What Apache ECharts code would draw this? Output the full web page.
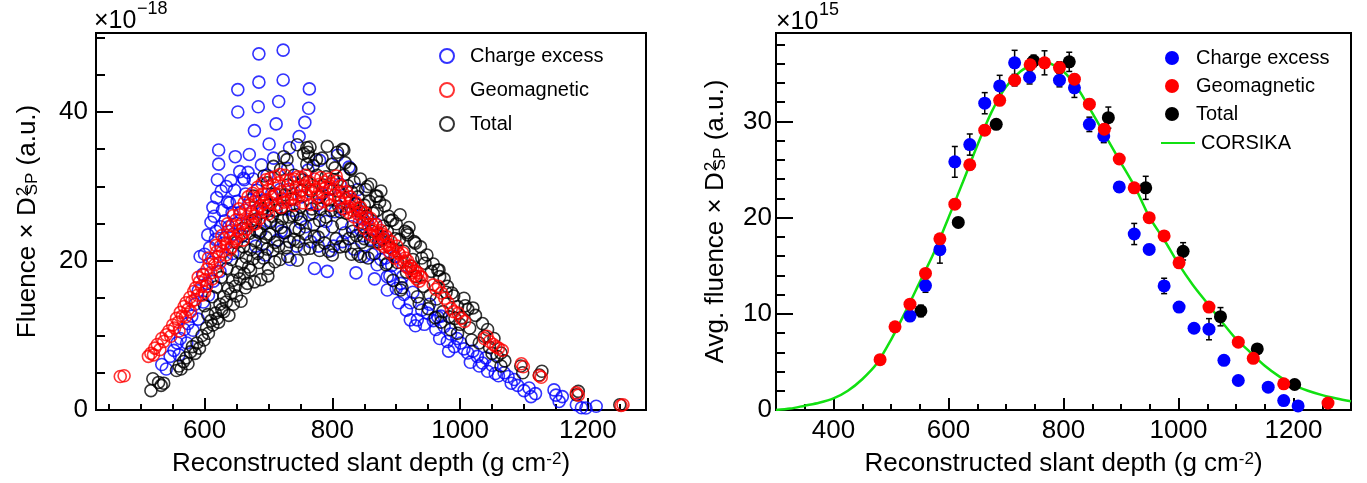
<!DOCTYPE html>
<html><head><meta charset="utf-8">
<script src="https://cdn.jsdelivr.net/npm/echarts@6/dist/echarts.min.js"></script>
<style>html,body{margin:0;padding:0;background:#fff}#c{width:1367px;height:483px}</style>
</head><body><div id="c"></div>
<script>
// ---------- Left panel: per-event values [depth, fluence x D^2 (1e-18)] ----------
const leftCharge = [[533,6.1],[540,5.5],[546,7.2],[552,8.0],[557,9.0],[560,7.4],[562,9.6],[568,10.8],[572,9.0],[574,11.6],[580,12.6],[582,10.7],[585,14.2],[590,16.0],[590,12.2],[593,20.6],[597,18.2],[598,14.5],[600,20.9],[604,17.0],[605,23.5],[606,15.4],[608,21.8],[610,25.2],[612,19.8],[613,27.2],[614,17.3],[615,26.0],[617,22.9],[618,24.0],[619,28.5],[620,30.9],[622,33.0],[622,34.9],[624,18.6],[625,24.6],[626,29.4],[628,26.8],[630,22.4],[632,25.4],[634,30.0],[634,20.4],[636,27.9],[638,24.6],[639,27.8],[641,30.8],[643,26.5],[644,21.0],[645,23.6],[647,29.5],[648,34.0],[650,25.0],[651,28.0],[652,40.0],[652,43.0],[655,32.0],[656,26.5],[658,23.3],[661,31.1],[662,30.9],[664,29.0],[665,24.8],[668,31.9],[670,34.3],[672,28.2],[674,26.6],[676,31.0],[678,37.5],[680,22.0],[682,29.5],[684,40.7],[685,44.0],[685,47.8],[688,24.0],[689,32.9],[690,26.5],[694,28.1],[695,20.8],[698,31.5],[701,35.7],[703,25.4],[705,29.0],[708,33.8],[712,38.4],[714,22.8],[716,41.4],[718,29.6],[720,24.0],[723,44.3],[723,48.3],[726,23.8],[727,27.0],[730,32.4],[733,35.2],[734,20.2],[738,26.8],[740,30.5],[744,22.0],[748,36.7],[750,25.2],[752,28.6],[757,38.6],[758,24.6],[762,32.2],[763,40.5],[764,43.1],[766,22.6],[770,26.4],[772,19.0],[776,27.5],[778,22.0],[780,33.5],[784,29.0],[786,24.0],[790,25.3],[792,18.6],[796,29.6],[798,21.4],[802,22.0],[804,26.6],[808,34.2],[812,30.3],[814,27.0],[816,22.6],[820,23.8],[822,28.4],[826,32.6],[830,24.6],[834,21.6],[837,18.4],[837,27.6],[840,29.6],[844,24.2],[845,26.0],[848,23.4],[850,20.6],[855,25.6],[860,22.9],[862,20.9],[866,17.6],[868,25.0],[870,19.5],[874,22.8],[876,20.2],[880,23.2],[883,20.4],[886,17.9],[886,16.1],[890,18.0],[893,19.4],[898,20.6],[900,16.3],[904,14.4],[907,17.0],[910,17.9],[912,15.5],[916,13.4],[922,14.4],[922,12.1],[926,15.8],[930,11.3],[933,12.1],[940,13.4],[944,11.5],[949,13.0],[952,14.2],[958,12.0],[962,10.8],[965,12.5],[968,9.6],[970,12.6],[975,11.2],[980,9.2],[982,7.9],[985,10.2],[991,8.5],[995,9.6],[1001,9.0],[1006,8.2],[1012,7.65],[1016,6.4],[1020,7.9],[1027,7.2],[1030,5.9],[1035,6.3],[1040,7.0],[1043,5.2],[1050,6.0],[1055,4.9],[1060,4.6],[1069,5.0],[1075,4.5],[1080,3.6],[1085,4.1],[1090,3.3],[1100,2.6],[1108,2.95],[1111,1.8],[1118,2.2],[1147,2.7],[1150,2.0],[1155,1.15],[1160,1.8],[1182,0.7],[1190,0.3],[1197,0.27],[1213,0.5]];

const leftGeo = [[468,4.5],[474,4.6],[512,7.2],[516,7.6],[520,7.4],[522,8.3],[526,8.8],[530,8.1],[533,9.6],[536,9.2],[540,10.1],[544,10.6],[547,9.9],[550,11.4],[553,11.0],[556,12.3],[559,11.8],[560,10.6],[562,13.1],[565,12.6],[568,13.9],[570,12.5],[571,14.4],[574,13.5],[577,15.1],[578,13.2],[580,14.6],[583,15.9],[585,14.8],[586,16.4],[589,15.4],[590,17.8],[592,17.2],[595,16.6],[596,15.4],[598,18.1],[600,15.8],[601,17.5],[603,16.6],[604,18.9],[606,20.4],[607,19.6],[610,18.4],[612,17.6],[613,20.3],[616,19.5],[618,22.1],[619,21.2],[620,18.6],[622,20.6],[624,19.8],[625,22.0],[627,23.4],[628,21.3],[631,23.0],[633,20.8],[634,22.3],[636,25.0],[637,24.0],[640,23.2],[640,21.5],[642,21.9],[643,24.8],[645,26.1],[646,22.6],[649,25.5],[650,23.0],[652,24.1],[654,27.0],[655,26.2],[657,23.6],[658,25.0],[660,22.8],[661,23.8],[662,27.8],[664,26.8],[666,24.3],[667,25.6],[668,28.6],[670,27.5],[672,25.2],[673,26.3],[675,29.1],[676,24.9],[678,26.0],[679,28.0],[680,25.0],[682,26.9],[683,29.9],[685,28.6],[686,25.7],[688,27.4],[690,30.4],[691,29.0],[693,27.8],[694,26.5],[696,30.9],[697,28.2],[699,27.0],[700,29.6],[700,26.3],[703,31.1],[704,27.8],[706,28.6],[708,30.2],[710,31.3],[712,28.9],[714,27.6],[716,30.5],[718,31.6],[720,29.3],[720,27.2],[722,28.3],[724,27.9],[726,31.5],[728,30.8],[730,28.0],[732,29.6],[734,30.9],[736,28.4],[738,29.0],[740,31.0],[740,27.5],[742,28.3],[744,29.9],[746,31.3],[748,28.7],[750,29.4],[752,31.2],[754,27.8],[756,30.1],[758,31.5],[760,28.9],[762,29.7],[764,30.6],[766,27.6],[768,29.5],[770,30.0],[772,31.0],[774,29.6],[776,28.6],[778,27.7],[780,30.3],[782,31.2],[784,29.2],[786,28.0],[788,30.6],[790,29.9],[792,28.4],[794,31.0],[796,29.8],[798,27.5],[800,30.4],[802,29.6],[804,28.8],[806,31.4],[808,30.7],[810,28.4],[812,27.9],[814,30.1],[816,29.2],[818,27.0],[820,28.4],[822,29.3],[824,27.3],[826,26.5],[828,28.6],[830,28.1],[832,26.8],[834,25.9],[836,27.9],[838,27.0],[840,26.3],[842,25.2],[844,27.2],[846,26.6],[848,25.6],[850,24.4],[852,26.4],[854,25.8],[856,24.9],[858,23.6],[860,25.7],[862,24.9],[864,24.2],[866,23.2],[868,24.9],[870,23.9],[872,23.6],[874,22.3],[876,24.1],[878,23.6],[880,22.9],[882,21.9],[884,23.3],[886,22.1],[888,22.2],[890,21.1],[892,22.6],[894,21.6],[896,21.4],[898,20.4],[901,22.0],[903,21.1],[905,20.9],[907,19.8],[910,21.1],[912,20.0],[914,20.4],[916,19.2],[918,20.0],[920,19.0],[922,19.4],[924,18.4],[926,19.0],[928,18.0],[930,18.6],[932,17.6],[934,18.4],[936,17.3],[938,17.9],[940,17.8],[958,16.8],[962,16.2],[966,16.6],[971,15.7],[976,15.0],[981,14.4],[986,13.6],[990,13.2],[997,13.0],[1002,12.3],[1007,11.9],[1038,9.6],[1042,9.9],[1046,9.2],[1052,8.8],[1056,8.5],[1060,8.3],[1066,8.0],[1096,6.2],[1099,5.8],[1124,4.6],[1127,4.4],[1182,2.3],[1185,2.0],[1252,0.6],[1255,0.7]];

const leftTotal = [[516,2.6],[519,4.2],[528,3.7],[532,3.3],[536,3.6],[556,5.3],[560,5.9],[563,5.5],[567,6.5],[571,7.0],[574,6.2],[578,7.8],[581,8.5],[585,7.6],[588,9.0],[592,8.3],[596,10.0],[599,9.4],[600,14.0],[603,11.0],[605,12.8],[606,10.3],[610,12.0],[612,15.2],[613,11.4],[617,13.0],[618,16.5],[620,12.3],[622,11.8],[624,14.2],[626,17.8],[627,13.5],[630,15.2],[630,13.2],[634,14.5],[635,19.0],[637,16.3],[638,12.7],[641,15.6],[642,20.2],[644,17.4],[645,14.2],[648,16.6],[650,22.5],[650,15.3],[651,18.5],[653,21.2],[655,17.6],[657,14.6],[658,19.6],[660,24.4],[661,21.9],[662,18.3],[664,16.4],[665,20.5],[667,17.0],[669,19.2],[670,23.7],[672,21.5],[672,18.8],[675,25.4],[676,20.3],[677,28.7],[678,17.2],[679,22.7],[680,25.6],[682,24.0],[683,21.0],[685,19.8],[686,23.8],[688,17.5],[690,22.2],[690,27.0],[692,20.4],[693,31.4],[694,25.0],[696,23.2],[698,21.6],[698,30.5],[699,18.0],[700,19.0],[700,27.5],[702,23.6],[703,25.2],[706,26.0],[707,21.4],[708,32.7],[710,22.5],[710,29.0],[710,19.9],[712,26.8],[714,24.8],[716,22.0],[718,20.2],[719,32.3],[720,27.0],[720,24.5],[722,25.7],[724,23.8],[724,34.0],[726,28.9],[728,21.8],[729,33.6],[730,30.2],[730,20.6],[732,25.9],[733,22.6],[736,28.3],[738,26.1],[740,22.9],[740,31.5],[742,24.4],[744,26.2],[745,35.6],[745,20.1],[747,22.6],[748,24.2],[750,27.3],[751,25.6],[752,29.5],[754,30.9],[755,34.4],[756,21.6],[758,23.6],[760,33.0],[760,35.2],[760,30.6],[762,34.6],[763,34.0],[764,26.2],[765,35.3],[765,21.7],[767,29.4],[768,27.0],[770,32.8],[771,24.9],[772,23.3],[775,33.6],[776,31.5],[778,23.2],[780,25.4],[780,28.6],[780,21.4],[782,27.0],[784,33.8],[786,30.2],[788,22.4],[790,31.3],[790,25.9],[792,35.4],[794,21.3],[796,28.2],[798,26.8],[800,24.6],[800,33.0],[800,20.8],[802,30.9],[804,32.5],[806,23.0],[808,34.6],[810,29.4],[810,27.3],[812,26.6],[812,21.9],[815,25.0],[816,35.0],[818,34.9],[818,31.5],[820,22.0],[820,33.2],[822,26.4],[824,30.1],[826,23.0],[828,32.4],[829,32.3],[830,29.3],[830,20.9],[832,24.0],[834,30.6],[836,27.7],[838,23.4],[840,20.9],[840,28.6],[842,26.7],[844,31.0],[844,20.6],[846,22.5],[848,25.1],[850,23.0],[850,27.5],[852,29.6],[854,26.0],[855,30.0],[856,20.4],[858,28.0],[860,30.3],[860,22.7],[862,24.0],[864,26.4],[866,21.0],[868,28.7],[870,26.8],[870,28.7],[872,22.6],[874,27.9],[876,29.4],[878,22.9],[880,24.7],[882,27.4],[884,19.5],[886,19.7],[886,24.0],[888,26.0],[890,21.8],[891,25.4],[894,25.5],[895,17.4],[898,23.0],[900,25.0],[902,19.8],[905,22.9],[906,26.2],[907,16.1],[909,16.4],[912,21.3],[914,24.0],[916,18.5],[917,23.8],[918,23.5],[920,24.5],[923,19.3],[926,20.2],[928,22.6],[930,22.4],[931,17.9],[933,15.2],[936,14.3],[938,21.9],[940,20.4],[943,16.6],[945,19.7],[948,20.8],[950,13.6],[953,15.4],[955,18.6],[958,19.6],[961,12.4],[963,14.9],[965,18.8],[967,18.8],[968,17.9],[970,11.8],[973,13.2],[975,17.6],[978,15.8],[980,16.6],[983,12.5],[985,10.8],[987,15.7],[990,15.3],[992,12.3],[996,13.9],[996,10.3],[1000,11.5],[1003,12.4],[1006,15.0],[1008,14.0],[1012,13.5],[1015,11.0],[1018,9.4],[1020,13.7],[1024,12.7],[1030,9.0],[1035,11.6],[1038,9.9],[1043,10.8],[1046,8.4],[1050,7.6],[1053,9.6],[1058,7.2],[1064,7.65],[1064,5.9],[1070,6.6],[1095,5.9],[1098,5.0],[1124,4.7],[1128,5.2],[1182,2.05],[1185,2.5],[1250,0.7]];

// ---------- Right panel: binned averages (1e15) ----------
const ceX   = [533,560,585,611,637,663,689,715,741,793,819,845,870,897,923,949,975,1001,1027,1053,1079,1104,1156,1183,1208];
const ceY   = [9.77,12.94,16.67,25.8,27.6,31.9,33.7,36.1,34.6,34.3,33.5,29.7,28.5,23.2,18.3,16.7,12.9,10.7,8.5,8.4,5.16,3.07,2.37,0.98,0.42];
const ceErr = [0.4,0.7,1.4,1.6,1.1,1.1,1.1,1.3,0.7,0.7,1.0,0.75,0.7,0.5,1.1,0.5,0.8,0.5,0.4,1.1,0.4,0.3,0.3,0.2,0.2];

const geoX   = [481,507,533,560,585,611,637,663,689,715,742,767,793,819,845,871,897,923,949,975,1001,1053,1104,1130,1183,1260];
const geoY   = [5.23,8.65,11.0,14.2,17.8,21.4,25.5,29.1,32.2,34.3,35.9,36.1,35.6,34.4,31.8,29.2,26.1,23.1,20.0,18.1,15.3,10.7,7.05,5.37,2.72,0.73];
const geoErr = [0.3,0.3,0.4,0.4,0.4,0.5,0.5,0.5,0.5,0.6,0.6,1.25,0.6,0.5,0.5,0.5,0.4,0.4,0.4,0.4,0.4,0.3,0.3,0.3,0.2,0.2];

const totX   = [552,617,683,748,810,878,943,1008,1073,1137,1202];
const totY   = [10.3,19.5,29.7,36.3,36.2,30.4,23.1,16.5,9.7,6.35,2.65];
const totErr = [0.6,0.5,0.4,0.6,1.0,1.1,1.2,0.9,0.95,0.4,0.3];

const corsikaX = [300,325,350,375,400,425,450,475,500,525,550,575,600,625,650,675,700,725,750,765,775,800,825,850,875,900,925,950,975,1000,1025,1050,1075,1100,1125,1150,1175,1200,1225,1250,1275,1300];
const corsikaY = [0,0.15,0.45,0.75,1.2,2.0,3.2,4.8,7.3,10.2,13.3,16.4,20.0,23.7,27.5,31.0,33.6,35.2,36.0,36.2,36.1,35.2,33.4,30.9,28.3,25.7,23.1,20.0,17.7,15.2,13.0,11.1,9.2,7.4,6.0,4.6,3.5,2.6,2.0,1.55,1.2,0.9];

// ---------- Tick values ----------
const leftXTicks  = [600,800,1000,1200];
const leftXMinor  = [450,500,550,650,700,750,850,900,950,1050,1100,1150,1250];
const leftYTicks  = [0,20,40];
const leftYMinor  = [5,10,15,25,30,35,45,50];
const rightXTicks = [400,600,800,1000,1200];
const rightXMinor = [350,450,500,550,650,700,750,850,900,950,1050,1100,1150,1250];
const rightYTicks = [0,10,20,30];
const rightYMinor = [2,4,6,8,12,14,16,18,22,24,26,28,32,34,36,38];

const FONT = 'Liberation Sans, Arial, Helvetica, sans-serif';
const chart = echarts.init(document.getElementById('c'), null, {renderer:'canvas'});

const zip = (xs, ys) => xs.map((x,i)=>[x, ys[i]]);
const zip3 = (xs, ys, es) => xs.map((x,i)=>[x, ys[i], es[i]]);
const plain = (v) => String(v);

function mainX(grid, min, max, ticks, nameGap){
  return {type:'value', gridIndex:grid, min, max, position:'bottom',
    axisLine:{show:true, onZero:false, lineStyle:{color:'#000', width:2}},
    axisTick:{show:true, inside:true, length:12, customValues:ticks, lineStyle:{color:'#000', width:2}},
    axisLabel:{show:true, customValues:ticks, formatter:plain, fontSize:26, fontFamily:FONT, color:'#000', margin:8},
    splitLine:{show:false},
    name:'Reconstructed slant depth (g cm{sup|-2})', nameLocation:'middle', nameGap,
    nameTextStyle:{fontSize:26, fontFamily:FONT, color:'#000',
      rich:{sup:{fontSize:17, fontFamily:FONT, color:'#000', verticalAlign:'top', lineHeight:12}}}
  };
}
function minorX(grid, min, max, ticks){
  return {type:'value', gridIndex:grid, min, max, position:'bottom',
    axisLine:{show:false}, axisLabel:{show:false}, splitLine:{show:false},
    axisTick:{show:true, inside:true, length:6, customValues:ticks, lineStyle:{color:'#000', width:2}}};
}
function mainY(grid, min, max, ticks, name, nameGap, margin){
  return {type:'value', gridIndex:grid, min, max, position:'left',
    axisLine:{show:true, onZero:false, lineStyle:{color:'#000', width:2}},
    axisTick:{show:true, inside:true, length:17, customValues:ticks, lineStyle:{color:'#000', width:2}},
    axisLabel:{show:true, customValues:ticks, formatter:plain, fontSize:26, fontFamily:FONT, color:'#000', margin},
    splitLine:{show:false},
    name, nameLocation:'middle', nameGap, nameRotate:90,
    nameTextStyle:{fontSize:26, fontFamily:FONT, color:'#000',
      rich:{
        n:{fontSize:26, fontFamily:FONT, color:'#000', align:'left'},
        sup:{fontSize:17, fontFamily:FONT, color:'#000', verticalAlign:'top', lineHeight:10, width:0.01, align:'left', padding:[0,0,0,1]},
        sub:{fontSize:17, fontFamily:FONT, color:'#000', verticalAlign:'bottom', lineHeight:12, align:'left', padding:[0,0,0,1]}
      }}
  };
}
function minorY(grid, min, max, ticks){
  return {type:'value', gridIndex:grid, min, max, position:'left',
    axisLine:{show:false}, axisLabel:{show:false}, splitLine:{show:false},
    axisTick:{show:true, inside:true, length:9, customValues:ticks, lineStyle:{color:'#000', width:2}}};
}

function openScatter(name, data, color){
  return {type:'scatter', name, data, xAxisIndex:0, yAxisIndex:0, symbol:'circle', symbolSize:12,
    itemStyle:{color:'rgba(0,0,0,0)', borderColor:color, borderWidth:1.6}, silent:true};
}
function filledScatter(name, data, color, z){
  return {type:'scatter', name, data, xAxisIndex:2, yAxisIndex:2, symbol:'circle', symbolSize:13,
    itemStyle:{color, opacity:1}, z, silent:true};
}
function errBars(data, z){
  return {type:'custom', xAxisIndex:2, yAxisIndex:2, data, z, silent:true,
    encode:{x:0, y:1},
    renderItem:function(params, api){
      const x = api.value(0), y = api.value(1), e = api.value(2);
      const t = api.coord([x, y+e]), b = api.coord([x, y-e]);
      const hw = 3, st = {stroke:'#000', lineWidth:1.5};
      return {type:'group', children:[
        {type:'line', shape:{x1:t[0], y1:t[1], x2:b[0], y2:b[1]}, style:st},
        {type:'line', shape:{x1:t[0]-hw, y1:t[1], x2:t[0]+hw, y2:t[1]}, style:st},
        {type:'line', shape:{x1:b[0]-hw, y1:b[1], x2:b[0]+hw, y2:b[1]}, style:st}
      ]};
    }};
}

const yNameLeft  = '{n|Fluence × D}{sup|2}{sub|SP}{n| (a.u.)}';
const yNameRight = '{n|Avg. fluence × D}{sup|2}{sub|SP}{n| (a.u.)}';

chart.setOption({
  animation:false,
  backgroundColor:'#fff',
  textStyle:{fontFamily:FONT},
  grid:[
    {left:96, top:33, width:550, height:377, show:true, borderColor:'#000', borderWidth:2, backgroundColor:'rgba(0,0,0,0)'},
    {left:776, top:33, width:575, height:377, show:true, borderColor:'#000', borderWidth:2, backgroundColor:'rgba(0,0,0,0)'}
  ],
  xAxis:[
    mainX(0, 430, 1291, leftXTicks, 41),
    minorX(0, 430, 1291, leftXMinor),
    mainX(1, 300, 1300, rightXTicks, 41),
    minorX(1, 300, 1300, rightXMinor)
  ],
  yAxis:[
    mainY(0, 0, 50.6, leftYTicks, yNameLeft, 55, 8),
    minorY(0, 0, 50.6, leftYMinor),
    mainY(1, 0, 39.2, rightYTicks, yNameRight, 47, 4),
    minorY(1, 0, 39.2, rightYMinor)
  ],
  legend:[
    {left:434, top:41, orient:'vertical', itemWidth:14, itemHeight:14, itemGap:14, icon:'circle',
      data:['Charge excess','Geomagnetic','Total'],
      textStyle:{fontSize:20, fontFamily:FONT, color:'#000', padding:[0,0,0,11]}, selectedMode:false},
    {left:1160, top:43, orient:'vertical', itemWidth:14, itemHeight:14, itemGap:8, icon:'circle',
      data:['Charge excess ','Geomagnetic ','Total '],
      formatter:(n)=>n.trim(),
      textStyle:{fontSize:20, fontFamily:FONT, color:'#000', padding:[0,0,0,12]}, selectedMode:false},
    {left:1155, top:128, orient:'vertical', itemWidth:34, itemHeight:14,
      data:['CORSIKA'], itemStyle:{opacity:0},
      textStyle:{fontSize:20, fontFamily:FONT, color:'#000', padding:[0,0,0,1]}, selectedMode:false}
  ],
  graphic:[
    {type:'text', x:94, y:21, style:{text:'×10', fontSize:25, fontFamily:FONT, fill:'#000', verticalAlign:'middle'}},
    {type:'text', x:137, y:9, style:{text:'−18', fontSize:18, fontFamily:FONT, fill:'#000', verticalAlign:'middle'}},
    {type:'text', x:776, y:22, style:{text:'×10', fontSize:25, fontFamily:FONT, fill:'#000', verticalAlign:'middle'}},
    {type:'text', x:819, y:10, style:{text:'15', fontSize:18, fontFamily:FONT, fill:'#000', verticalAlign:'middle'}}
  ],
  series:[
    openScatter('Charge excess', leftCharge, '#0000ff'),
    openScatter('Total', leftTotal, '#000000'),
    openScatter('Geomagnetic', leftGeo, '#ff0000'),
    {type:'line', name:'CORSIKA', data:zip(corsikaX, corsikaY), xAxisIndex:2, yAxisIndex:2,
      smooth:0.3, symbol:'none', showSymbol:false, lineStyle:{color:'#11e011', width:2.5}, itemStyle:{color:'#11e011'}, z:1, silent:true},
    errBars(zip3(totX, totY, totErr), 2),
    filledScatter('Total ', zip(totX, totY), '#000000', 3),
    errBars(zip3(ceX, ceY, ceErr), 4),
    filledScatter('Charge excess ', zip(ceX, ceY), '#0000ff', 5),
    errBars(zip3(geoX, geoY, geoErr), 6),
    filledScatter('Geomagnetic ', zip(geoX, geoY), '#ff0000', 7)
  ]
});
</script></body></html>
